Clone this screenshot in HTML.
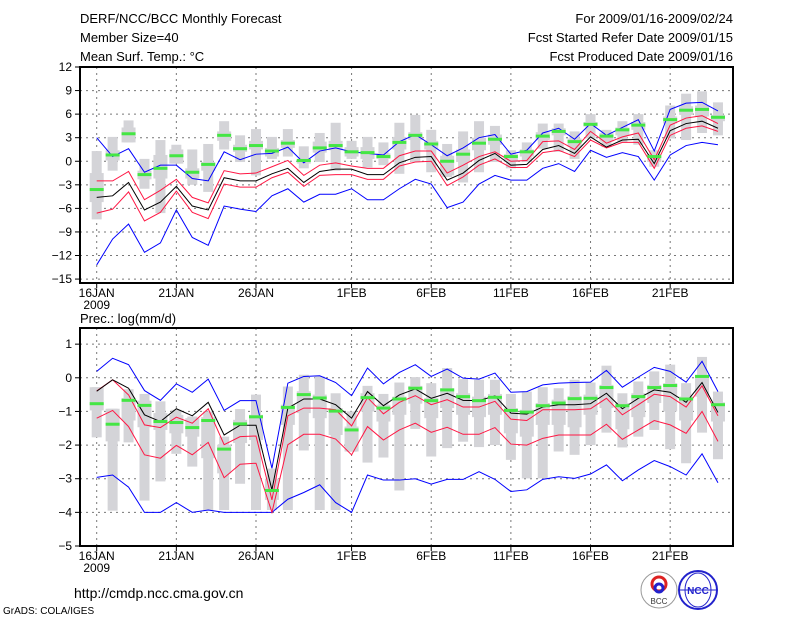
<!DOCTYPE html>
<html><head><meta charset="utf-8"><style>
body{margin:0;background:#fff;width:800px;height:618px;overflow:hidden}
svg{display:block;font-family:"Liberation Sans",sans-serif}
</style></head><body>
<svg id="chart" width="800" height="618" xmlns="http://www.w3.org/2000/svg">
<g font-size="13" fill="#000">
<text x="80" y="23">DERF/NCC/BCC Monthly Forecast</text>
<text x="80" y="42">Member Size=40</text>
<text x="80" y="61">Mean Surf. Temp.: °C</text>
<text x="733" y="23" text-anchor="end">For 2009/01/16-2009/02/24</text>
<text x="733" y="42" text-anchor="end">Fcst Started Refer Date 2009/01/15</text>
<text x="733" y="61" text-anchor="end">Fcst Produced Date 2009/01/16</text>
<text x="80" y="323">Prec.: log(mm/d)</text>
<text x="74" y="598" font-size="14">http://cmdp.ncc.cma.gov.cn</text>
<text x="3" y="614" font-size="10">GrADS: COLA/IGES</text>
</g>
<g>
<circle cx="659" cy="590" r="18" fill="#fff" stroke="#999"/>
<circle cx="659" cy="584" r="7" fill="none" stroke="#d22" stroke-width="3"/>
<circle cx="659" cy="588" r="4" fill="none" stroke="#22c" stroke-width="3"/>
<text x="659" y="604" font-size="8" text-anchor="middle" fill="#333">BCC</text>
</g>
<g>
<circle cx="698" cy="590" r="19" fill="#fff" stroke="#22c" stroke-width="2"/>
<ellipse cx="698" cy="590" rx="13" ry="17" fill="none" stroke="#22c"/>
<line x1="679" y1="590" x2="717" y2="590" stroke="#22c"/>
<text x="698" y="594" font-size="10" text-anchor="middle" fill="#22c" font-weight="bold">NCC</text>
</g>
</svg>
<script>
// ---- top panel: temperature ----
const days = ["16JAN","21JAN","26JAN","1FEB","6FEB","11FEB","16FEB","21FEB"];
const dayIdx = [0,5,10,16,21,26,31,36];
const tTicks = [12,9,6,3,0,-3,-6,-9,-12,-15];
const tBlueUp = [3.0,0.6,1.6,-1.4,-0.5,-0.5,-2.2,-2.5,1.2,0.2,0.9,1.0,1.8,-0.2,1.3,1.7,1.2,1.0,0.8,2.5,3.4,2.1,0.7,1.7,3.0,3.4,0.9,1.4,3.6,4.2,2.8,4.8,3.3,4.3,5.3,1.3,6.6,7.4,7.5,6.4];
const tRedUp = [-2.5,-2.5,-1.3,-4.9,-3.7,-2.3,-4.6,-5.3,-1.2,-1.6,-1.5,-0.7,0.1,-1.8,-0.5,-0.2,-0.6,-0.9,-0.9,0.7,1.3,1.3,-1.5,-0.5,0.6,1.2,0.0,0.1,2.5,2.6,1.5,3.8,2.3,3.1,3.6,0.2,4.6,5.5,5.8,4.8];
const tMean = [-4.6,-4.4,-2.7,-6.2,-5.2,-3.2,-5.7,-6.2,-2.1,-2.5,-2.5,-1.6,-0.9,-2.7,-1.3,-1.0,-1.0,-1.7,-1.7,-0.2,0.5,0.6,-2.4,-1.5,0.1,1.0,-0.5,-0.4,1.5,2.0,1.0,3.1,1.8,2.7,2.8,-0.3,3.9,4.8,5.1,4.2];
const tRedLo = [-6.6,-6.1,-3.9,-7.6,-6.5,-3.8,-6.5,-7.3,-2.9,-3.3,-3.3,-2.1,-1.4,-3.2,-1.8,-1.7,-1.7,-2.3,-2.3,-0.6,-0.1,0.0,-3.1,-2.0,-0.5,0.3,-0.8,-0.8,1.1,1.4,0.6,2.7,1.7,2.4,2.4,-0.9,3.3,4.2,4.5,3.8];
const tBlueLo = [-13.2,-9.9,-8.0,-11.6,-10.4,-6.2,-9.7,-10.7,-5.7,-6.1,-6.4,-4.4,-3.5,-5.2,-4.2,-4.2,-3.5,-4.9,-4.9,-3.5,-2.3,-2.9,-5.9,-5.2,-2.9,-1.8,-2.4,-2.4,-0.9,-0.3,-1.3,1.4,0.5,1.1,0.6,-2.4,0.8,2.0,2.4,2.1];
const tObs = [-3.6,0.8,3.5,-1.7,-0.9,0.7,-1.4,-0.4,3.3,1.6,2.0,1.3,2.3,0.1,1.7,2.0,1.2,1.1,0.6,2.4,3.3,2.2,0.0,0.9,2.3,2.8,0.6,1.2,3.2,3.8,2.5,4.7,3.2,4.0,4.6,0.6,5.3,6.5,6.6,5.6];
const tBoxHi = [-1.5,1.4,4.3,-1.2,0.8,1.5,-0.9,-0.1,3.8,2.1,2.6,1.7,2.7,0.3,2.5,2.6,1.8,1.8,1.0,3.1,3.7,2.6,0.7,1.5,3.0,3.4,0.9,1.5,3.7,4.2,2.9,5.0,3.6,4.3,5.0,0.9,5.7,7.0,7.1,5.9];
const tBoxLo = [-5.2,0.1,2.4,-2.3,-2.2,-0.3,-2.2,-1.2,2.6,1.2,1.5,0.6,1.7,-0.3,1.1,1.4,0.6,0.3,0.3,1.5,2.7,1.5,-1.8,-0.1,1.4,2.1,-0.1,0.6,2.7,3.3,1.8,4.4,2.5,3.3,4.0,-0.1,4.8,5.9,5.7,5.1];
const tWhHi = [1.3,3.1,5.2,0.3,2.7,2.1,1.5,2.2,5.1,3.3,4.1,3.1,4.1,1.9,3.6,4.9,2.6,3.1,2.4,4.9,5.9,4.0,2.2,3.8,5.1,4.5,1.4,2.4,4.8,4.8,3.8,6.0,4.0,5.1,6.0,1.4,7.1,8.6,8.9,7.5];
const tWhLo = [-7.4,-1.2,2.4,-3.5,-6.6,-0.3,-3.0,-3.9,1.5,-0.1,-1.8,0.3,0.6,-0.9,-0.1,-1.2,0.3,-0.8,-0.5,-1.6,-0.1,-1.4,-2.0,-2.7,-1.4,-0.1,-0.9,-0.1,1.6,1.2,0.3,2.9,1.8,2.4,2.1,-0.7,2.9,2.7,3.6,3.3];
// ---- bottom panel: precipitation ----
const pTicks = [1,0,-1,-2,-3,-4,-5];
const pBlueUp = [0.19,0.58,0.39,-0.38,-0.67,-0.18,-0.43,-0.04,-0.97,-0.68,-0.68,-2.69,-0.16,0.04,0.06,-0.14,-0.53,0.29,-0.18,0.16,0.39,0.04,0.26,-0.01,-0.04,0.14,-0.43,-0.41,-0.21,-0.16,-0.14,-0.13,0.22,-0.28,0.02,0.31,0.19,-0.13,0.49,-0.41];
const pRedUp = [-0.39,-0.06,-0.51,-1.4,-1.48,-1.17,-1.35,-0.92,-1.99,-1.75,-1.73,-3.63,-1.13,-0.9,-0.9,-0.95,-1.43,-0.59,-1.07,-0.73,-0.53,-0.8,-0.65,-0.87,-0.87,-0.7,-1.23,-1.27,-0.95,-0.95,-0.95,-0.92,-0.61,-1.1,-0.8,-0.49,-0.56,-0.87,-0.24,-1.13];
const pMean = [-0.4,-0.06,-0.31,-1.1,-1.3,-0.92,-1.13,-0.73,-1.7,-1.41,-1.41,-3.33,-0.9,-0.63,-0.63,-0.8,-1.2,-0.41,-0.83,-0.51,-0.33,-0.61,-0.46,-0.67,-0.68,-0.54,-1.05,-1.08,-0.87,-0.8,-0.8,-0.77,-0.46,-0.92,-0.61,-0.36,-0.43,-0.73,-0.14,-1.03];
const pRedLo = [-1.2,-0.97,-1.45,-2.29,-2.39,-2.01,-2.29,-1.92,-2.97,-2.57,-2.54,-4.0,-1.99,-1.68,-1.68,-1.82,-2.29,-1.45,-1.85,-1.55,-1.35,-1.62,-1.47,-1.68,-1.68,-1.48,-1.97,-2.0,-1.8,-1.7,-1.7,-1.7,-1.38,-1.83,-1.55,-1.27,-1.4,-1.65,-1.0,-1.89];
const pBlueLo = [-2.96,-2.89,-3.25,-4.0,-4.0,-3.71,-4.0,-3.93,-4.0,-4.0,-4.0,-4.0,-3.61,-3.41,-3.18,-3.71,-4.0,-2.89,-3.04,-3.04,-3.0,-3.16,-3.02,-3.02,-2.79,-3.02,-3.38,-3.33,-3.02,-2.94,-2.99,-2.86,-2.59,-3.06,-2.74,-2.46,-2.64,-2.89,-2.26,-3.12];
const pObs = [-0.77,-1.38,-0.67,-0.82,-1.3,-1.33,-1.48,-1.27,-2.12,-1.37,-1.16,-3.35,-0.88,-0.5,-0.6,-0.99,-1.55,-0.59,-0.9,-0.63,-0.31,-0.68,-0.36,-0.56,-0.68,-0.58,-0.97,-1.02,-0.83,-0.75,-0.62,-0.61,-0.29,-0.83,-0.56,-0.29,-0.23,-0.63,0.04,-0.8];
const pBoxHi = [-0.28,-0.92,-0.6,-0.68,-1.05,-1.1,-1.2,-1.17,-1.99,-1.25,-1.1,-3.0,-0.8,-0.4,-0.5,-0.9,-1.45,-0.46,-0.8,-0.56,-0.24,-0.6,-0.31,-0.46,-0.56,-0.48,-0.9,-0.95,-0.75,-0.65,-0.54,-0.5,-0.21,-0.75,-0.46,-0.21,-0.16,-0.56,0.09,-0.73];
const pBoxLo = [-0.97,-1.89,-1.27,-1.47,-1.55,-1.65,-1.75,-2.39,-2.84,-1.94,-1.85,-3.63,-1.4,-1.05,-1.2,-1.7,-2.19,-1.0,-1.3,-1.1,-0.77,-1.2,-0.9,-1.1,-1.17,-1.1,-1.65,-1.75,-1.4,-1.4,-1.47,-1.1,-0.9,-1.53,-1.17,-0.75,-1.0,-1.27,-0.56,-1.3];
const pWhHi = [-0.28,-0.92,-0.34,-0.48,-0.7,-0.95,-1.15,-1.0,-1.75,-0.93,-0.5,-2.7,-0.26,0.09,0.04,-0.46,-1.0,-0.24,-0.48,-0.14,0.02,-0.16,0.29,-0.04,-0.06,-0.06,-0.48,-0.41,-0.28,-0.31,-0.06,-0.14,0.36,-0.46,-0.11,0.19,0.39,-0.16,0.62,-0.41];
const pWhLo = [-1.77,-3.95,-1.92,-3.65,-3.08,-2.26,-2.64,-3.93,-3.93,-3.15,-3.93,-3.93,-3.93,-2.16,-3.93,-3.93,-2.2,-2.52,-2.37,-3.35,-1.52,-2.34,-2.09,-1.9,-2.06,-2.0,-2.44,-2.99,-2.99,-2.19,-2.29,-2.0,-1.63,-2.07,-1.75,-1.55,-2.12,-2.54,-1.63,-2.42];

const NS='http://www.w3.org/2000/svg';
const svg=document.getElementById('chart');
const X0=80,X1=733;
function xDay(d){return 96.7+d*15.93;}
function mk(tag,attrs,parent){const e=document.createElementNS(NS,tag);for(const k in attrs)e.setAttribute(k,attrs[k]);(parent||svg).appendChild(e);return e;}

function panel(prefix,top,bottom,vTop,vBot,ticks,series){
  const yv=v=>top+(vTop-v)*(bottom-top)/(vTop-vBot);
  const g=mk('g',{});
  
  
  // grid
  ticks.forEach(t=>{const y=yv(t);if(y>top+1&&y<bottom-1){const l=mk('line',{x1:X0,x2:X1,y1:y,y2:y,stroke:'#777','stroke-dasharray':'2,4','stroke-width':1},g);}
    const tl=mk('line',{x1:X0-5,x2:X0,y1:y,y2:y,stroke:'#000'},g);
    
    const tx=mk('text',{x:X0-8,y:y+4,'font-size':12,'text-anchor':'end'},g);tx.textContent=(t<0?'\u2212'+(-t):t);
    });
  dayIdx.forEach((d,i)=>{const x=xDay(d);
    const l=mk('line',{x1:x,x2:x,y1:top,y2:bottom,stroke:'#777','stroke-dasharray':'2,4'},g);
    
    const tk=mk('line',{x1:x,x2:x,y1:bottom,y2:bottom+5,stroke:'#000'},g);
    
    const tx=mk('text',{x:x,y:bottom+14,'font-size':12,'text-anchor':'middle'},g);tx.textContent=days[i];
    });
  const yr=mk('text',{x:xDay(0),y:bottom+26,'font-size':12,'text-anchor':'middle'},g);yr.textContent='2009';
  
  // boxes
  series.whHi.forEach((v,i)=>{const x=xDay(i);
    const w=mk('rect',{x:x-5,y:yv(v),width:10,height:Math.max(1,yv(series.whLo[i])-yv(v)),fill:'#d4d4d8'},g);
    
    const b=mk('rect',{x:x-7,y:yv(series.boxHi[i]),width:14,height:Math.max(1,yv(series.boxLo[i])-yv(series.boxHi[i])),fill:'#d4d4d8'},g);
    });
  const line=(arr,col,name)=>{const p=mk('polyline',{points:arr.map((v,i)=>xDay(i)+','+yv(v)).join(' '),fill:'none',stroke:col,'stroke-width':1},g);
    };
  line(series.blueUp,'#0000ff','upper-bound-line');
  line(series.blueLo,'#0000ff','lower-bound-line');
  line(series.redUp,'#ff1744','upper-spread-line');
  line(series.redLo,'#ff1744','lower-spread-line');
  line(series.mean,'#000','ensemble-mean-line');
  series.obs.forEach((v,i)=>{const r=mk('rect',{x:xDay(i)-7,y:yv(v)-1.5,width:14,height:3,fill:'#44e644'},g);
    });
  const f=mk('rect',{x:X0,y:top,width:X1-X0,height:bottom-top,fill:'none',stroke:'#000','stroke-width':2},g);
  
}
panel('temperature',67,283,12,-15.5,tTicks,{blueUp:tBlueUp,blueLo:tBlueLo,redUp:tRedUp,redLo:tRedLo,mean:tMean,obs:tObs,boxHi:tBoxHi,boxLo:tBoxLo,whHi:tWhHi,whLo:tWhLo});
panel('precipitation',328,546,1.48,-5,pTicks,{blueUp:pBlueUp,blueLo:pBlueLo,redUp:pRedUp,redLo:pRedLo,mean:pMean,obs:pObs,boxHi:pBoxHi,boxLo:pBoxLo,whHi:pWhHi,whLo:pWhLo});
</script>
</body></html>
